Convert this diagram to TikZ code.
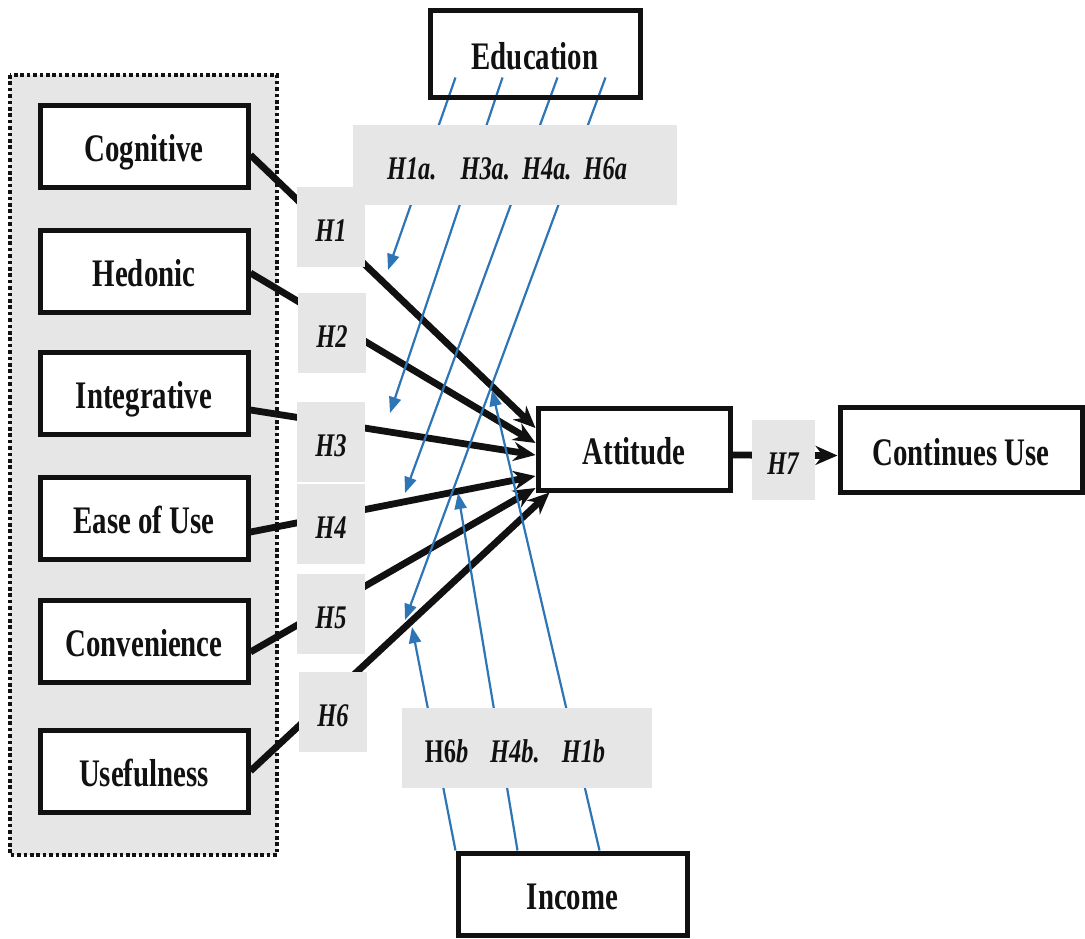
\documentclass[tikz,border=0pt]{standalone}
\usepackage{fontspec}
\setmainfont{Liberation Serif}[FakeStretch=0.74]
\usetikzlibrary{arrows.meta,positioning}
\definecolor{pathInk}{HTML}{111111}
\definecolor{pathBlue}{HTML}{2E75B6}
\definecolor{pathGray}{HTML}{E6E6E6}
\pgfdeclarelayer{back}
\pgfdeclarelayer{wires}
\pgfsetlayers{back,wires,main}
\tikzset{
  every picture/.style={text=pathInk},
  path box/.style={draw=pathInk, line width=2.5pt, fill=white, align=center,
    minimum width=104pt, minimum height=41pt, inner sep=0pt,
    text height=16pt, text depth=0.5pt,
    font=\fontsize{19.5}{21}\selectfont\bfseries},
  path tag/.style={fill=pathGray, minimum width=34pt, minimum height=40pt,
    inner sep=0pt, text height=14pt, text depth=0pt,
    font=\fontsize{16.5}{18}\selectfont\bfseries\itshape},
  path arrow/.style={-{Stealth[length=11pt,width=9.5pt]},
    draw=pathInk, line width=3.4pt, line cap=butt},
  mod arrow/.style={-{Triangle[length=8pt,width=6pt]},
    draw=pathBlue, line width=1.1pt}
}

\begin{document}
\begin{tikzpicture}[x=0.5pt,y=-0.5pt]
  \useasboundingbox (0,0) rectangle (1085,938);
  % grouped antecedents
  \begin{pgfonlayer}{back}
    \fill[pathGray] (10,75) rectangle (277,855);
    \draw[pathInk, line width=2pt, dash pattern=on 1.8pt off 1.4pt] (10,75) rectangle (277,855);
  \end{pgfonlayer}
  \node[path box] (cog) at (144,146) {Cognitive};
  \node[path box] (hed) at (144,271) {Hedonic};
  \node[path box] (int) at (144,393) {Integrative};
  \node[path box] (eas) at (144,518) {Ease of Use};
  \node[path box] (con) at (144,641) {Convenience};
  \node[path box] (use) at (144,771) {Usefulness};
  \node[path box, minimum width=96pt] (att) at (634,449) {Attitude};
  \node[path box, minimum width=121pt, minimum height=42.5pt] (cu) at (961,449.5) {Continues Use};
  \node[path box, fill=none, minimum width=105pt, minimum height=43.5pt] (edu) at (535,53.5) {Education};
  \node[path box, minimum width=114.5pt] (inc) at (572.5,894) {Income};
  % hypothesis tags
  \node[path tag] (h1) at (331,227) {H1};
  \node[path tag] (h2) at (332,333) {H2};
  \node[path tag] (h3) at (331,442) {H3};
  \node[path tag] (h4) at (331,524) {H4};
  \node[path tag] (h5) at (331,614) {H5};
  \node[path tag] (h6) at (333,712) {H6};
  \node[path tag, minimum width=31.5pt] (h7) at (783,460) {H7};
  \node[path tag, minimum width=162pt] (hedu) at (515,165) {\hspace*{-8pt}H1a.\hspace{12pt}H3a.\hspace{6pt}H4a.\hspace{6pt}H6a};
  \node[path tag, minimum width=125pt] (hinc) at (527,748) {\hspace*{-12pt}{\upshape H6}b\hspace{11pt}H4b.\hspace{11pt}H1b};
  % free ends of the moderating arrows
  \coordinate (ea1) at (388,270);
  \coordinate (ea3) at (390,413);
  \coordinate (ea4) at (405,493);
  \coordinate (ea6) at (405,620);
  \coordinate (ib6) at (412,627);
  \coordinate (ib4) at (458,493);
  \coordinate (ib1) at (492,390);
  \begin{pgfonlayer}{wires}
    \draw[path arrow] ([yshift=-4.5pt]cog.east) -- ([yshift=10.5pt]att.west);
    \draw[path arrow] ([yshift=-1pt]hed.east) -- ([yshift=3pt]att.west);
    \draw[path arrow] ([yshift=-8.5pt]int.east) -- ([yshift=-3pt]att.west);
    \draw[path arrow] ([yshift=-7pt]eas.east) -- ([yshift=-13.5pt]att.west);
    \draw[path arrow] ([yshift=-5.5pt]con.east) -- ([yshift=-19.5pt]att.west);
    \draw[path arrow] (use.east) -- ([xshift=7pt]att.south west);
    \draw[path arrow] ([yshift=-3pt]att.east) -- ([yshift=-3pt]cu.west);
    % moderation by education
    \draw[mod arrow] ([xshift=14pt,yshift=11pt]edu.south west) -- (ea1);
    \draw[mod arrow] ([xshift=37.5pt,yshift=11pt]edu.south west) -- (ea3);
    \draw[mod arrow] ([xshift=65pt,yshift=11pt]edu.south west) -- (ea4);
    \draw[mod arrow] ([xshift=89pt,yshift=11pt]edu.south west) -- (ea6);
    % moderation by income
    \draw[mod arrow] (inc.north west) -- (ib6);
    \draw[mod arrow] ([xshift=31pt]inc.north west) -- (ib4);
    \draw[mod arrow] ([xshift=72pt]inc.north west) -- (ib1);
  \end{pgfonlayer}
\end{tikzpicture}
\end{document}
